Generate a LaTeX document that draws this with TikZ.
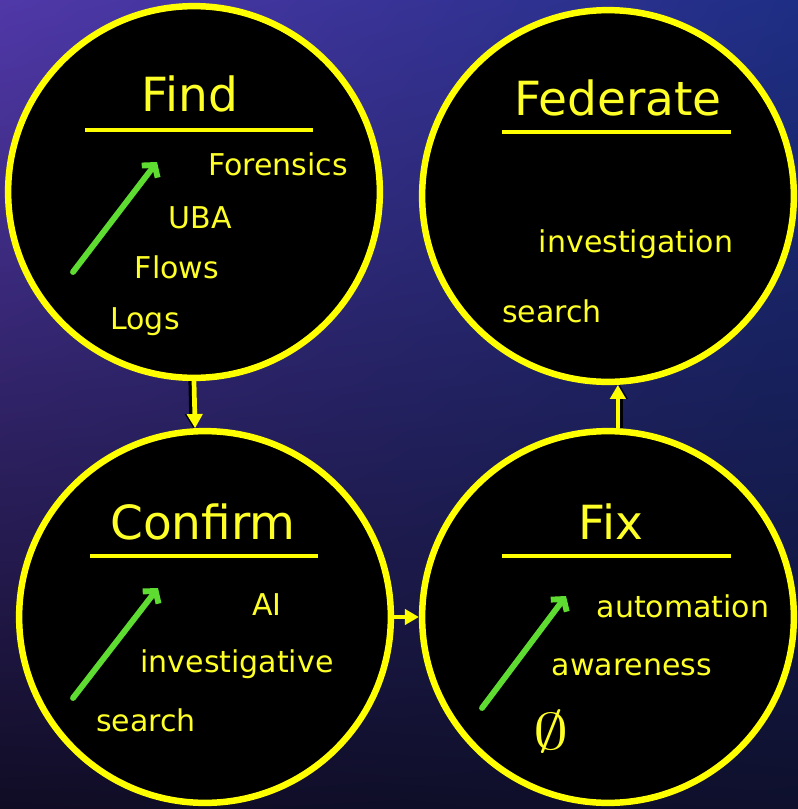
\documentclass[tikz,border=0pt]{standalone}
\usepackage{fontspec}
\usepackage{graphicx}
\setmainfont{DejaVu Sans}
\usetikzlibrary{arrows.meta, shadings}
\definecolor{ffyellow}{RGB}{255,255,0}
\definecolor{fftext}{RGB}{255,255,40}
\definecolor{ffgreen}{RGB}{95,220,50}
\definecolor{ffbgtl}{RGB}{80,56,168}
\definecolor{ffbgtr}{RGB}{30,46,132}
\definecolor{ffbgbl}{RGB}{16,12,36}
\definecolor{ffbgbr}{RGB}{14,16,44}
\begin{document}
\begin{tikzpicture}[x=0.85pt, y=-0.85pt,
  ffstage/.style = {circle, draw=ffyellow, line width=5.5pt, fill=black,
    minimum size=316pt, inner sep=0pt},
  ffrule/.style = {ffyellow, line width=4pt},
  fftitle/.style = {anchor=base, text=fftext, font=\fontsize{40}{44}\selectfont},
  ffitem/.style = {anchor=base, text=fftext, font=\fontsize{25.5}{29}\selectfont},
  ffgrow/.style = {-{Straight Barb[length=7pt, width=17pt]}, line width=5pt,
    line cap=round, ffgreen},
  fflink/.style = {-{Triangle[length=12pt, width=13pt]}, line width=4pt, ffyellow},
  ffshadow/.style = {-{Triangle[length=12pt, width=13pt]}, line width=6.5pt, black}
]
  % background
  \shade[upper left=ffbgtl, upper right=ffbgtr,
         lower left=ffbgbl, lower right=ffbgbr]
    (0,0) rectangle (798,809);
  \useasboundingbox (0,0) rectangle (798,809);

  % the four stages
  \node[ffstage] (find) at (194,192) {};
  \node[ffstage] (federate) at (608,196) {};
  \node[ffstage] (confirm) at (205,617) {};
  \node[ffstage] (fix) at (608,617) {};

  % links between stages
  \draw[ffshadow] ([xshift=-1.5pt]find.south) -- ([xshift=-1.5pt]confirm.93);
  \draw[fflink] (find.south) -- (confirm.93);
  \draw[fflink] (confirm.east) -- (fix.west);
  \draw[ffshadow] ([xshift=1.5pt]fix.87) -- ([xshift=1.5pt]federate.273);
  \draw[fflink] (fix.87) -- (federate.273);

  % Find
  \node[fftitle] (find-t) at (190,111) {Find};
  \draw[ffrule] (85,130) -- (313,130);
  \draw[ffgrow] (73,272) -- (157,162);
  \node[ffitem] (find-a) at (278,175) {Forensics};
  \node[ffitem] (find-b) at (200,228) {UBA};
  \node[ffitem] (find-c) at (177,278) {Flows};
  \node[ffitem] (find-d) at (145,329) {Logs};

  % Federate
  \node[fftitle] (federate-t) at (618,115) {Federate};
  \draw[ffrule] (502,132) -- (731,132);
  \node[ffitem] (federate-a) at (636,252) {investigation};
  \node[ffitem] (federate-b) at (552,322) {search};

  % Confirm
  \node[fftitle] (confirm-t) at (203,539) {Confirm};
  \draw[ffrule] (90,556) -- (318,556);
  \draw[ffgrow] (73,698) -- (158,588);
  \node[ffitem] (confirm-a) at (267,615) {AI};
  \node[ffitem] (confirm-b) at (237,672) {investigative};
  \node[ffitem] (confirm-c) at (146,731) {search};

  % Fix
  \node[fftitle] (fix-t) at (611,539) {Fix};
  \draw[ffrule] (502,556) -- (731,556);
  \draw[ffgrow] (482,708) -- (566,596);
  \node[ffitem] (fix-a) at (683,617) {automation};
  \node[ffitem] (fix-b) at (632,675) {awareness};
  \node[text=fftext, inner sep=0pt] (fix-c) at (551,732) {\scalebox{6}[4.4]{$\emptyset$}};
\end{tikzpicture}
\end{document}
